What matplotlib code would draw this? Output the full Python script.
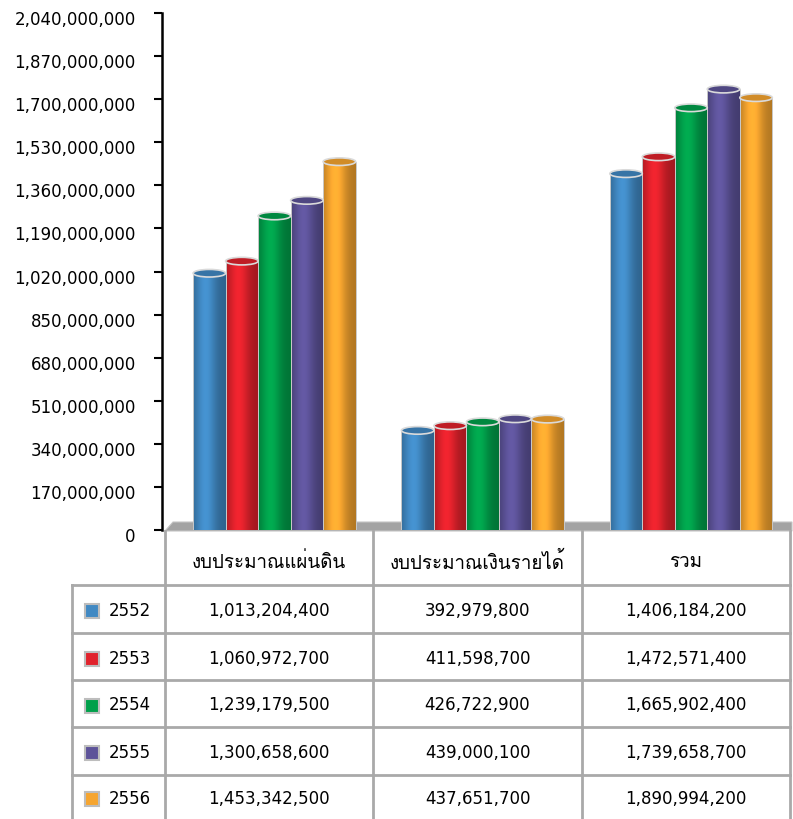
import numpy as np
import matplotlib
matplotlib.use("Agg")
import matplotlib.pyplot as plt
import matplotlib.transforms as mtransforms
from matplotlib.patches import Ellipse, Polygon, Rectangle
from matplotlib import font_manager
from matplotlib.ft2font import FT2Font

# data (Thai fiscal years, baht)
categories = ["งบประมาณแผ่นดิน", "งบประมาณเงินรายได้", "รวม"]
years = ["2552", "2553", "2554", "2555", "2556"]
land = [1013204400, 1060972700, 1239179500, 1300658600, 1453342500]
income = [392979800, 411598700, 426722900, 439000100, 437651700]
total = [1406184200, 1472571400, 1665902400, 1739658700, 1890994200]
# heights as drawn in the source chart (its last total bar is lower than the table figure)
total_bar = [1406184200, 1472571400, 1665902400, 1739658700, 1706000000]
colors = ["#4189c3", "#e1222c", "#00a04b", "#5d5399", "#f6a52f"]
yticks = np.arange(0, 2040000001, 170000000)

# find a font that has Thai glyphs
thai_font = "DejaVu Sans"
for f in font_manager.fontManager.ttflist:
    try:
        if 0x0E07 in FT2Font(f.fname).get_charmap():
            thai_font = f.name
            break
    except Exception:
        pass

W, H = 793, 819
fig = plt.figure(figsize=(W / 100, H / 100), dpi=100)

# background layer in pixel coords: floor + data table
bg = fig.add_axes([0, 0, 1, 1], zorder=0)
bg.set_xlim(0, W)
bg.set_ylim(H, 0)
bg.axis("off")

bg.add_patch(Polygon([(165, 531), (173, 522), (792, 522), (792, 531)],
                     closed=True, facecolor="#a3a3a3", edgecolor="#c4c4c4", lw=0.8))

cols = [165, 373, 582, 790]
rows = [585, 633, 680, 727, 775, 819]
lc = "#a9a9a9"
for x in cols:
    bg.plot([x, x], [531, H], color=lc, lw=2)
bg.plot([72, 72], [585, H], color=lc, lw=2)
for y in rows[:-1]:
    bg.plot([72, 790], [y, y], color=lc, lw=2)

for i, c in enumerate(categories):
    bg.text((cols[i] + cols[i + 1]) / 2, 562, c, ha="center", va="center",
            fontsize=13.5, family=[thai_font, "DejaVu Sans"])

series = list(zip(land, income, total))
for r, yr in enumerate(years):
    yc = (rows[r] + rows[r + 1]) / 2 + 2
    bg.add_patch(Rectangle((85, yc - 7), 14, 14, facecolor=colors[r],
                           edgecolor="#bdbdbd", lw=1.5))
    bg.text(109, yc, yr, ha="left", va="center", fontsize=12)
    for i, v in enumerate(series[r]):
        bg.text((cols[i] + cols[i + 1]) / 2, yc, f"{v:,}", ha="center",
                va="center", fontsize=12)

# chart layer
ax = fig.add_axes([165 / W, (H - 530) / H, 625 / W, 517 / H], zorder=1)
ax.set_facecolor("none")

bw = 0.156
top_h = 30000000
prof = np.linspace(0, 1, 64)
shade = 0.72 + 0.36 * np.exp(-((prof - 0.38) / 0.32) ** 2)

drawn = [land, income, total_bar]
for g in range(3):
    for s in range(5):
        x = g + 0.525 + (s - 2) * bw
        h = drawn[g][s]
        base = np.array(matplotlib.colors.to_rgb(colors[s]))
        grad = np.clip(base[None, None, :] * shade[None, :, None], 0, 1)
        ax.imshow(grad, extent=(x - bw / 2, x + bw / 2, 0, h), aspect="auto",
                  interpolation="bilinear", zorder=2)
        ax.bar(x, h, width=bw, fill=False, edgecolor="#c9c9c9", lw=0.7, zorder=3)
        ax.add_patch(Ellipse((x, h), bw, top_h, facecolor=base * 0.85,
                             edgecolor="#dadada", lw=1.2, zorder=4))

ax.set_xlim(0, 3)
ax.set_ylim(0, 2040000000)
ax.set_yticks(yticks)
ax.set_yticklabels([f"{v:,}" for v in yticks])
ax.set_xticks([])
for sp in ["top", "right", "bottom"]:
    ax.spines[sp].set_visible(False)
ax.spines["left"].set_linewidth(1.8)
ax.spines["left"].set_position(("outward", 2))
ax.tick_params(axis="y", direction="out", length=6, width=1.5, pad=13,
               labelsize=12)
off = mtransforms.ScaledTranslation(0, -5 / 100, fig.dpi_scale_trans)
for lbl in ax.get_yticklabels():
    lbl.set_transform(lbl.get_transform() + off)

fig.savefig("out.png", dpi=100)
